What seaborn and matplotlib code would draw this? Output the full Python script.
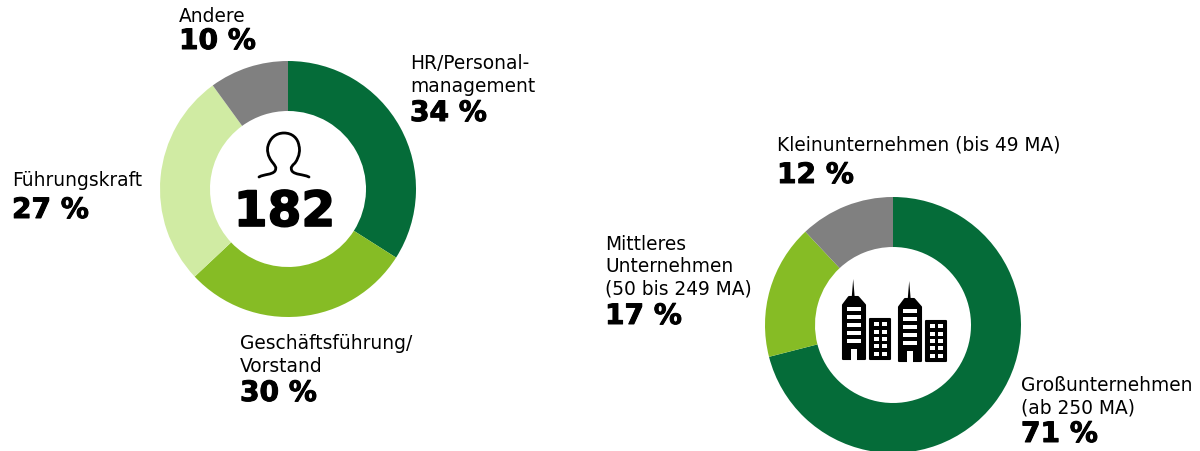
import matplotlib.pyplot as plt
import matplotlib.patheffects as pe
from matplotlib.patches import PathPatch, Polygon, Rectangle
from matplotlib.path import Path
import seaborn as sns

W, H = 1200, 452

role_labels = ['HR/Personal-\nmanagement', 'Geschäftsführung/\nVorstand', 'Führungskraft', 'Andere']
role_values = [34, 30, 27, 10]
# wedge sizes as drawn, the printed percents add up to 101
role_shares = [34, 29, 27, 10]
role_colors = ['#056c39', '#86bc25', '#d0eba3', '#808080']
role_total = 182

size_labels = ['Großunternehmen\n(ab 250 MA)', 'Mittleres\nUnternehmen\n(50 bis 249 MA)', 'Kleinunternehmen (bis 49 MA)']
size_values = [71, 17, 12]
size_colors = ['#056c39', '#86bc25', '#808080']

LABEL_SIZE = 13.4
VALUE_SIZE = 20.2
# DejaVu Bold is lighter than the bold in the reference
HEAVY = [pe.withStroke(linewidth=0.7, foreground='black')]


def draw_donut(fig, center, values, colors, outer=128, inner=78):
    cx, cy = center
    ax = fig.add_axes([(cx - outer) / W, (H - cy - outer) / H, 2 * outer / W, 2 * outer / H])
    ax.pie(values, colors=colors, startangle=90, counterclock=False, radius=1,
           wedgeprops={'width': (outer - inner) / outer, 'linewidth': 0}, frame=False)
    ax.set_xlim(-1, 1)
    ax.set_ylim(-1, 1)
    # the lower donut runs off the bottom edge of the figure
    ax.patch.set_visible(False)
    return ax


def add_label(ax, x, y_label, y_value, label, value):
    ax.text(x, y_label, label, fontsize=LABEL_SIZE, color='black', ha='left', va='center', linespacing=1.22)
    ax.text(x, y_value, f'{value} %', fontsize=VALUE_SIZE, fontweight='bold', color='black',
            ha='left', va='center', path_effects=HEAVY)


def draw_person(ax):
    verts = [(259, 178), (264, 175), (272, 176), (275, 172),
             (277, 168), (275, 167), (273, 164),
             (267, 157), (267, 150), (268, 147),
             (270, 139), (276, 134), (284, 134),
             (292, 134), (298, 139), (299, 147),
             (300, 150), (300, 157), (295, 164),
             (292, 167), (290, 168), (292, 172),
             (295, 176), (303, 175), (309, 178)]
    codes = [Path.MOVETO] + [Path.CURVE4] * 24
    ax.add_patch(PathPatch(Path(verts, codes), fill=False, edgecolor='black', linewidth=2,
                           capstyle='round', joinstyle='round'))


def draw_tower(ax, dx, dy):
    ax.add_patch(Polygon([(851.8 + dx, 297 + dy), (853.2 + dx, 280 + dy), (854.6 + dx, 297 + dy)],
                         facecolor='black', edgecolor='none'))
    ax.add_patch(Polygon([(843 + dx, 306 + dy), (849 + dx, 298 + dy), (858 + dx, 298 + dy), (865 + dx, 306 + dy),
                          (865 + dx, 360 + dy), (843 + dx, 360 + dy)], facecolor='black', edgecolor='black',
                         linewidth=1.5, joinstyle='round'))
    for wy in [310, 318, 326, 334, 342]:
        ax.add_patch(Rectangle((847 + dx, wy - 1.7 + dy), 14, 3.4, facecolor='white', edgecolor='none'))
    ax.add_patch(Rectangle((851 + dx, 350 + dy), 6, 12, facecolor='white', edgecolor='none'))


def draw_block(ax, dx, dy):
    ax.add_patch(Rectangle((870 + dx, 320 + dy), 20, 40, facecolor='black', edgecolor='black',
                           linewidth=1.5, joinstyle='round'))
    for wy in [325, 333, 340, 347, 355]:
        for wx in [874, 882]:
            ax.add_patch(Rectangle((wx + dx, wy - 2 + dy), 5, 4, facecolor='white', edgecolor='none'))


sns.set_theme(style='white')
plt.rcParams['font.family'] = ['DejaVu Sans']

fig = plt.figure(figsize=(W / 100, H / 100), dpi=100)
draw_donut(fig, (288, 190), role_shares, sns.color_palette(role_colors))
draw_donut(fig, (893, 326), size_values, sns.color_palette(size_colors))

overlay = fig.add_axes([0, 0, 1, 1])
overlay.set_xlim(0, W)
overlay.set_ylim(H, 0)
overlay.axis('off')
overlay.patch.set_visible(False)

add_label(overlay, 410, 75, 114, role_labels[0], role_values[0])
add_label(overlay, 240, 355, 394, role_labels[1], role_values[1])
add_label(overlay, 12, 181, 211, role_labels[2], role_values[2])
add_label(overlay, 179, 16, 42, role_labels[3], role_values[3])

add_label(overlay, 1021, 397, 435, size_labels[0], size_values[0])
add_label(overlay, 605, 267, 317, size_labels[1], size_values[1])
add_label(overlay, 777, 145, 176, size_labels[2], size_values[2])

overlay.text(284.5, 213, str(role_total), fontsize=35, fontweight='bold', color='black',
             ha='center', va='center', path_effects=[pe.withStroke(linewidth=1.2, foreground='black')])
draw_person(overlay)
draw_tower(overlay, 0, 0)
draw_tower(overlay, 56, 2)
draw_block(overlay, 0, 0)
draw_block(overlay, 56, 2)

plt.savefig('out.png', dpi=100)
plt.close()
